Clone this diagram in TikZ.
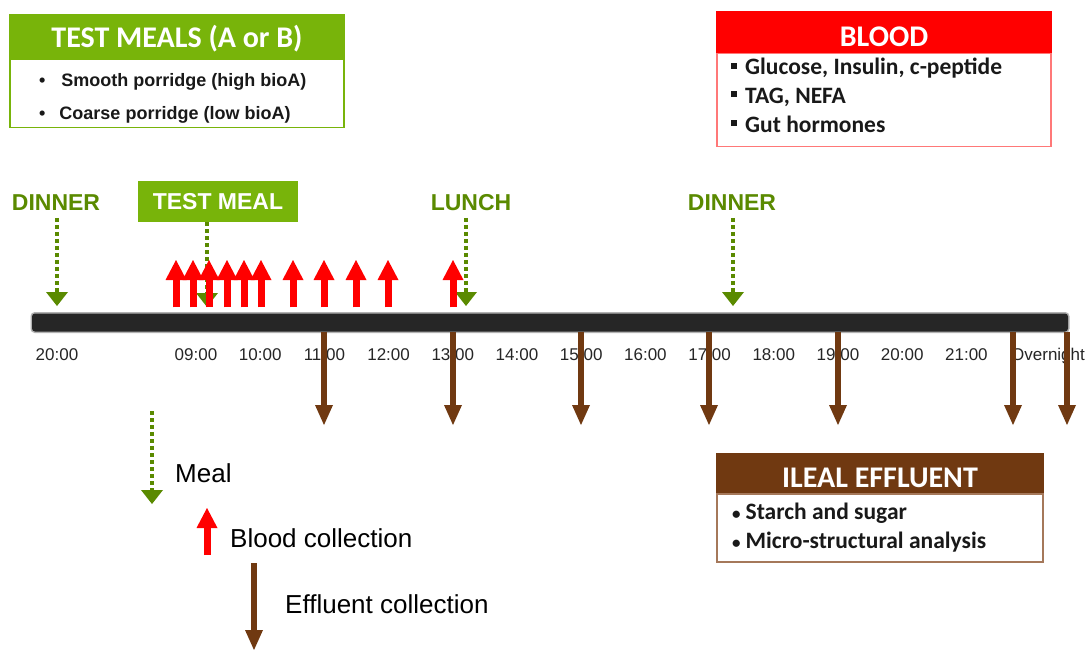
\documentclass[tikz,border=0pt]{standalone}
\usepackage{fontspec}
\setmainfont{Liberation Sans}
\newfontfamily\calibri{Carlito}
\usetikzlibrary{arrows.meta,positioning}

\definecolor{mealgreen}{RGB}{120,180,10}
\definecolor{dinnergreen}{RGB}{90,138,0}
\definecolor{bloodred}{RGB}{255,0,0}
\definecolor{bloodedge}{RGB}{255,120,120}
\definecolor{gutbrown}{RGB}{112,57,17}
\definecolor{gutedge}{RGB}{165,120,90}
\definecolor{bargrey}{RGB}{38,38,38}

\newcommand{\setpx}[1]{\fontsize{#1pt}{#1pt}\selectfont}
\newcommand{\smallbullet}{{\setpx{17}•}}

\begin{document}
\begin{tikzpicture}[x=1pt, y=-1pt,
    header/.style={fill=#1, draw=#1, line width=1.5pt, inner sep=0pt, minimum width=334pt},
    panel/.style={draw=#1, line width=1.5pt, fill=white, inner sep=0pt, minimum width=334pt},
    title/.style={text=white, font=\calibri\bfseries\setpx{30}, text height=19.3pt, text depth=0pt, inner sep=0pt},
    item/.style={anchor=base west, inner sep=0pt, text=black!90},
    mealitem/.style={item, font=\bfseries\setpx{18}},
    listitem/.style={item, font=\calibri\bfseries\setpx{23.5}},
    meallabel/.style={text=dinnergreen, font=\bfseries\setpx{23}, text height=16.5pt, text depth=0pt},
    hour/.style={anchor=base, text=black!85, font=\setpx{17}, inner sep=0pt},
    bar/.style={fill=bargrey, rounded corners=3pt, minimum width=1036pt, minimum height=18pt, inner sep=0pt, preaction={draw=black!30, line width=3pt}},
    meal/.style={draw=dinnergreen, line width=4pt, dash pattern=on 4pt off 3pt, -{Triangle[width=22pt,length=14pt,line width=0pt]}},
    blood/.style={draw=bloodred, line width=7pt, -{Triangle[width=21pt,length=20pt,line width=0pt]}},
    effluent/.style={draw=gutbrown, line width=6pt, -{Triangle[width=18pt,length=20pt,line width=0pt]}},
    legend/.style={anchor=base west, inner sep=0pt, font=\setpx{26}}]

	\fill[white] (0,0) rectangle (1089,650);
	\useasboundingbox (0,0) rectangle (1089,650);

	%test meals box
	\node[header=mealgreen, minimum height=43pt] (mealsHead) at (177,36.5) {};
	\node[panel=mealgreen, minimum height=68pt, below=0pt of mealsHead] (mealsBody) {};
	\node[title] (mealsTitle) at ([yshift=-1pt]mealsHead.center) {TEST MEALS (A or B)};
	\node[mealitem] (smooth) at (39,86.5) {•\hspace{16pt}Smooth porridge (high bioA)};
	\node[mealitem] (coarse) at (39,120) {•\hspace{14pt}Coarse porridge (low bioA)};

	%blood box
	\node[header=bloodred, minimum height=40pt] (bloodHead) at (884,32) {};
	\node[panel=bloodedge, minimum height=93pt, below=0pt of bloodHead] (bloodBody) {};
	\node[title] (bloodTitle) at ([yshift=-4.5pt]bloodHead.center) {BLOOD};
	\node[listitem] (glucose) at (731,75) {\rule[6pt]{6pt}{6pt}\hspace{8pt}Glucose, Insulin, c-peptide};
	\node[listitem] (tag) at (731,103.5) {\rule[6pt]{6pt}{6pt}\hspace{8pt}TAG, NEFA};
	\node[listitem] (hormones) at (731,132) {\rule[6pt]{6pt}{6pt}\hspace{8pt}Gut hormones};

	%ileal effluent box
	\node[header=gutbrown, minimum width=326pt, minimum height=39pt] (ilealHead) at (880,473) {};
	\node[panel=gutedge, minimum width=326pt, minimum height=68pt, below=0pt of ilealHead] (ilealBody) {};
	\node[title] (ilealTitle) at ([yshift=-4.5pt]ilealHead.center) {ILEAL EFFLUENT};
	\node[listitem] (starch) at (732,519) {\smallbullet\hspace{5pt}Starch and sugar};
	\node[listitem] (micro) at (732,548) {\smallbullet\hspace{5pt}Micro-structural analysis};

	%timeline
	\node[bar] (bar) at (550,322.5) {};
	\node[hour] (hEve) at (57,360) {20:00};
	\foreach \t [count=\i from 0] in {09,10,11,12,13,14,15,16,17,18,19,20,21}
		\node[hour] (h\t) at (196+64.2*\i,360) {\t:00};
	\node[hour] (hNight) at (1048,360) {Overnight};

	%meals
	\node[meallabel] (dinnerEve) at (56,202) {DINNER};
	\node[meallabel, fill=mealgreen, text=white, minimum width=160pt, minimum height=41pt] (testMeal) at (218,201.5) {TEST MEAL};
	\node[meallabel] (lunch) at (471,202) {LUNCH};
	\node[meallabel] (dinner) at (732,202) {DINNER};
	\coordinate (eatEve) at (57,306);
	\coordinate (eatTest) at (207,307);
	\coordinate (eatLunch) at (466,306);
	\coordinate (eatDinner) at (733,306);
	\draw[meal, shorten <=4pt] (dinnerEve.south -| eatEve) -- (eatEve);
	\draw[meal] (testMeal.south -| eatTest) -- (eatTest);
	\draw[meal, shorten <=4pt] (lunch.south -| eatLunch) -- (eatLunch);
	\draw[meal, shorten <=4pt] (dinner.south -| eatDinner) -- (eatDinner);

	%blood samples
	\foreach \x in {176,193,209,227,244,261,293,324,356,388,453}{
		\coordinate (sample) at (\x,260);
		\draw[blood, shorten <=6pt] (bar.north -| sample) -- (sample);
	}

	%effluent samples
	\foreach \x in {324,453,581,709,838,1013,1067}{
		\coordinate (bag) at (\x,425);
		\draw[effluent] (bar.south -| bag) -- (bag);
	}

	%legend
	\coordinate (legMealA) at (152,411);
	\coordinate (legMealB) at (152,504);
	\draw[meal] (legMealA) -- (legMealB);
	\node[legend] (legMeal) at (175,482) {Meal};
	\coordinate (legBloodA) at (207,555);
	\coordinate (legBloodB) at (207,508);
	\draw[blood] (legBloodA) -- (legBloodB);
	\node[legend] (legBlood) at (230,547) {Blood collection};
	\coordinate (legGutA) at (254,563);
	\coordinate (legGutB) at (254,650);
	\draw[effluent] (legGutA) -- (legGutB);
	\node[legend] (legGut) at (285,613) {Effluent collection};
\end{tikzpicture}
\end{document}
